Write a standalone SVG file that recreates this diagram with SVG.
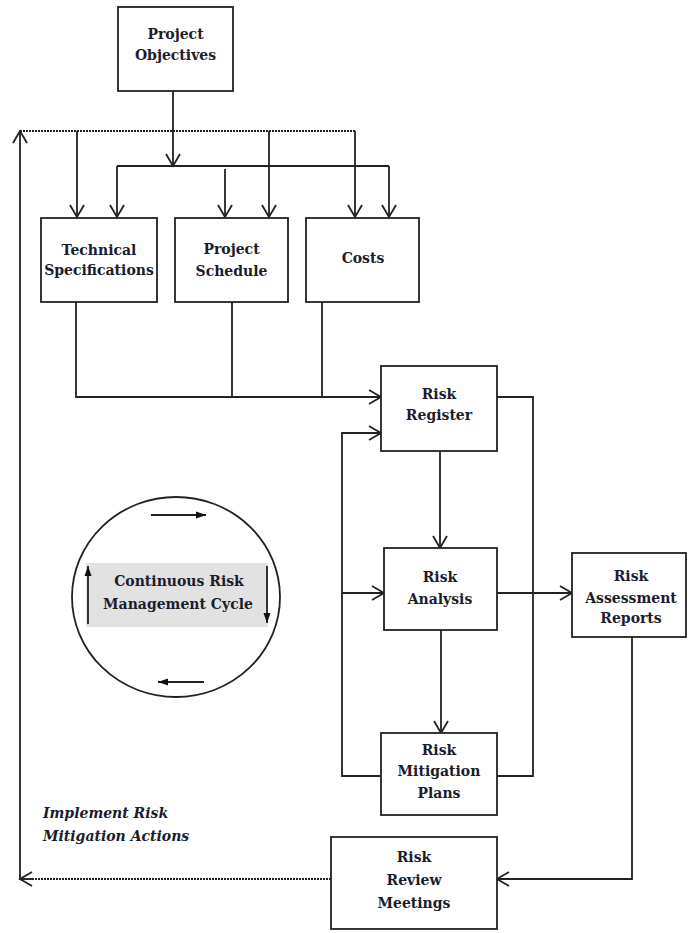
<svg xmlns="http://www.w3.org/2000/svg" width="688" height="933" viewBox="0 0 688 933">
<style>
.box{fill:#fff;stroke:#222;stroke-width:1.8}
.ln{fill:none;stroke:#222;stroke-width:1.8}
.dot{fill:none;stroke:#222;stroke-width:1.8;stroke-dasharray:2 1}
.t{font-family:"DejaVu Serif","Liberation Serif",serif;font-weight:bold;font-size:14px;fill:#1c1c2c;text-anchor:middle}
.it{font-family:"DejaVu Serif","Liberation Serif",serif;font-weight:bold;font-style:italic;font-size:14px;fill:#1c1c2c}
</style>
<defs>
<marker id="oa" viewBox="-14 -9 16 18" markerWidth="16" markerHeight="18" refX="0" refY="0" orient="auto" markerUnits="userSpaceOnUse">
<path d="M-12,-7 L0,0 L-12,7" fill="none" stroke="#222" stroke-width="1.8"/>
</marker>
<marker id="fa" viewBox="-10 -4 11 8" markerWidth="11" markerHeight="8" refX="0" refY="0" orient="auto" markerUnits="userSpaceOnUse">
<path d="M-10,-3.5 L0,0 L-10,3.5 Z" fill="#111"/>
</marker>
</defs>

<g id="connectors">
<path class="ln" d="M173,91 V166" marker-end="url(#oa)"/>
<path class="ln" d="M117,166 H389"/>
<path class="ln" d="M117,166 V217" marker-end="url(#oa)"/>
<path class="ln" d="M225,169 V217" marker-end="url(#oa)"/>
<path class="ln" d="M389,166 V217" marker-end="url(#oa)"/>
<path class="dot" d="M20,131 H355"/>
<path class="ln" d="M77,131 V217" marker-end="url(#oa)"/>
<path class="ln" d="M269,131 V217" marker-end="url(#oa)"/>
<path class="ln" d="M355,131 V217" marker-end="url(#oa)"/>
<path class="ln" d="M20,880 V131" marker-end="url(#oa)"/>
<path class="ln" d="M76,302 V397 H381" marker-end="url(#oa)"/>
<path class="ln" d="M232,302 V397"/>
<path class="ln" d="M322,302 V397"/>
<path class="ln" d="M497,397 H533 V776 H497"/>
<path class="ln" d="M381,776 H342 V433 H381" marker-end="url(#oa)"/>
<path class="ln" d="M342,593 H384" marker-end="url(#oa)"/>
<path class="ln" d="M440,451 V548" marker-end="url(#oa)"/>
<path class="ln" d="M441,630 V733" marker-end="url(#oa)"/>
<path class="ln" d="M497,593 H572" marker-end="url(#oa)"/>
<path class="ln" d="M632,637 V879 H497" marker-end="url(#oa)"/>
<path class="dot" d="M331,879 H20"/>
<path class="ln" d="M32,879 H20" marker-end="url(#oa)"/>
</g>

<g id="project-objectives">
<rect class="box" x="118" y="7" width="115" height="84"/>
<text class="t" x="175.5" y="39" font-size="14.5">Project</text>
<text class="t" x="175.5" y="60" font-size="14.5">Objectives</text>
</g>
<g id="technical-specifications">
<rect class="box" x="41" y="218" width="116" height="84"/>
<text class="t" x="99" y="255" font-size="12.5">Technical</text>
<text class="t" x="99" y="275" font-size="12.5">Specifications</text>
</g>
<g id="project-schedule">
<rect class="box" x="175" y="218" width="113" height="84"/>
<text class="t" x="231.5" y="254">Project</text>
<text class="t" x="231.5" y="276">Schedule</text>
</g>
<g id="costs">
<rect class="box" x="306" y="218" width="113" height="84"/>
<text class="t" x="363" y="263">Costs</text>
</g>
<g id="risk-register">
<rect class="box" x="381" y="366" width="116" height="85"/>
<text class="t" x="439" y="399">Risk</text>
<text class="t" x="439" y="420">Register</text>
</g>
<g id="risk-analysis">
<rect class="box" x="384" y="548" width="113" height="82"/>
<text class="t" x="440" y="582">Risk</text>
<text class="t" x="440" y="604">Analysis</text>
</g>
<g id="risk-assessment-reports">
<rect class="box" x="572" y="553" width="114" height="84"/>
<text class="t" x="631" y="581">Risk</text>
<text class="t" x="631" y="603">Assessment</text>
<text class="t" x="631" y="623">Reports</text>
</g>
<g id="risk-mitigation-plans">
<rect class="box" x="381" y="733" width="116" height="82"/>
<text class="t" x="439" y="755">Risk</text>
<text class="t" x="439" y="776">Mitigation</text>
<text class="t" x="439" y="798">Plans</text>
</g>
<g id="risk-review-meetings">
<rect class="box" x="331" y="837" width="166" height="92"/>
<text class="t" x="414" y="862">Risk</text>
<text class="t" x="414" y="885">Review</text>
<text class="t" x="414" y="908">Meetings</text>
</g>
<g id="implement-label">
<text class="it" x="43" y="818">Implement Risk</text>
<text class="it" x="43" y="841">Mitigation Actions</text>
</g>
<g id="cycle">
<ellipse cx="176" cy="597" rx="104" ry="100" fill="none" stroke="#222" stroke-width="1.8"/>
<rect x="86" y="563" width="182" height="64" fill="#e2e2e2"/>
<text class="t" x="179" y="586" font-size="15">Continuous Risk</text>
<text class="t" x="178" y="609" font-size="15">Management Cycle</text>
<path class="ln" d="M88,624 V566" stroke-width="1.5" marker-end="url(#fa)"/>
<path class="ln" d="M267,566 V623" stroke-width="1.5" marker-end="url(#fa)"/>
<path class="ln" d="M151,515 H206" stroke-width="1.5" marker-end="url(#fa)"/>
<path class="ln" d="M204,682 H158" stroke-width="1.5" marker-end="url(#fa)"/>
</g>
</svg>
